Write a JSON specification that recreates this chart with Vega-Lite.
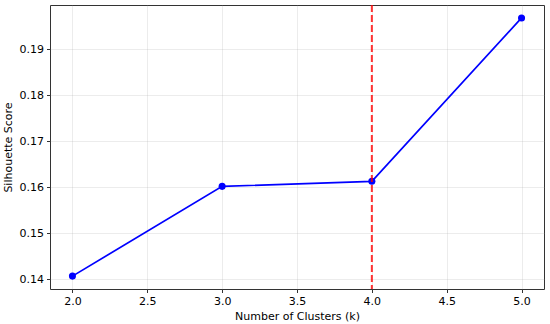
{
  "$schema": "https://vega.github.io/schema/vega-lite/v6.json",
  "autosize": "none",
  "width": 494,
  "height": 284,
  "padding": {"left": 50, "top": 5, "right": 6, "bottom": 35},
  "background": "white",
  "config": {
    "font": "DejaVu Sans",
    "view": {"stroke": "#333333", "strokeWidth": 1},
    "axis": {
      "labelFont": "DejaVu Sans",
      "titleFont": "DejaVu Sans",
      "labelFontSize": 11,
      "titleFontSize": 11,
      "titleFontWeight": "normal",
      "labelColor": "#000000",
      "titleColor": "#000000",
      "gridColor": "#b0b0b0",
      "gridOpacity": 0.3,
      "gridWidth": 0.8,
      "domain": false,
      "tickColor": "#333333",
      "tickSize": 3.5,
      "labelPadding": 3
    }
  },
  "data": {
    "values": [
      {"k": 2, "score": 0.1407},
      {"k": 3, "score": 0.1602},
      {"k": 4, "score": 0.1613},
      {"k": 5, "score": 0.1968}
    ]
  },
  "layer": [
    {
      "mark": {"type": "line", "color": "#0000ff", "strokeWidth": 1.7},
      "encoding": {
        "x": {
          "field": "k", "type": "quantitative",
          "scale": {"domain": [1.85, 5.15], "nice": false, "zero": false},
          "axis": {"values": [2.0, 2.5, 3.0, 3.5, 4.0, 4.5, 5.0], "format": ".1f", "title": "Number of Clusters (k)", "titlePadding": 4}
        },
        "y": {
          "field": "score", "type": "quantitative",
          "scale": {"domain": [0.13790, 0.19961], "nice": false, "zero": false},
          "axis": {"values": [0.14, 0.15, 0.16, 0.17, 0.18, 0.19], "format": ".2f", "title": "Silhouette Score", "titlePadding": 6}
        }
      }
    },
    {
      "mark": {"type": "point", "filled": true, "color": "#0000ff", "size": 50, "opacity": 1},
      "encoding": {
        "x": {"field": "k", "type": "quantitative"},
        "y": {"field": "score", "type": "quantitative"}
      }
    },
    {
      "data": {"values": [{"best": 4}]},
      "mark": {"type": "rule", "color": "#ff0000", "opacity": 0.8, "strokeWidth": 2, "strokeDash": [7, 3]},
      "encoding": {
        "x": {"field": "best", "type": "quantitative"}
      }
    }
  ]
}
